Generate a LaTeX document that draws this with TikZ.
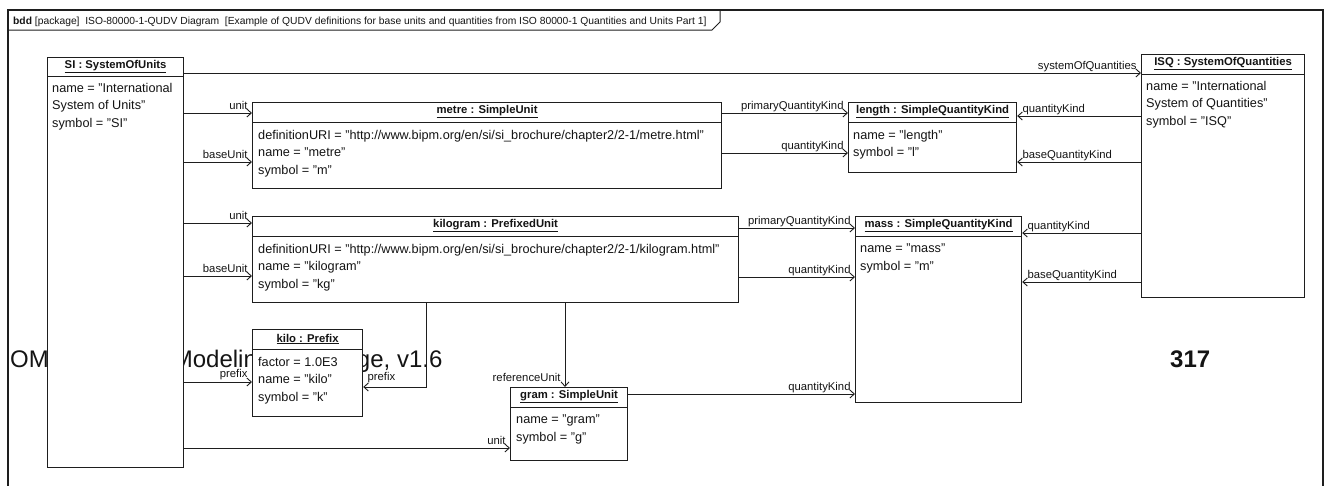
\documentclass[tikz,border=0pt]{standalone}
\usepackage{fontspec}
\setmainfont{Liberation Sans}
\usetikzlibrary{arrows.meta, positioning, calc}
\definecolor{umlline}{RGB}{30, 30, 30}
\definecolor{umltext}{RGB}{20, 20, 20}

\begin{document}
\begin{tikzpicture}[x=1pt, y=-1pt, every node/.style={text=umltext},
  frame/.style={draw=umlline, line width=1.3pt},
  obj/.style={draw=umlline, line width=1.2pt, fill=white, anchor=north west, inner sep=0pt},
  objtitle/.style={inner sep=0pt, font=\fontsize{11.3}{13}\selectfont\bfseries},
  objattr/.style={anchor=north west, inner sep=0pt, align=left, font=\fontsize{12.7}{17.5}\selectfont},
  divider/.style={draw=umlline, line width=1pt},
  assoc/.style={draw=umlline, line width=0.9pt, -{Straight Barb[length=4.5pt, width=8pt]}},
  role/.style={inner sep=0pt, font=\fontsize{11.3}{13}\selectfont}]
\useasboundingbox (0,0) rectangle (1331,485);

\draw[frame] (8,500) -- (8,10) -- (1323,10) -- (1323,500);
\node[anchor=base west, inner sep=0pt, font=\fontsize{10.3}{12}\selectfont] (hdr) at (13,24)
  {\textbf{bdd} [package]\ \ ISO-80000-1-QUDV Diagram\ \ [Example of QUDV definitions for base units and quantities from ISO 80000-1 Quantities and Units Part 1]};
\draw[frame, line width=1pt] (8,30) -- (712,30) -- (720,22) -- (720,10);

\node[anchor=base west, inner sep=0pt, font=\fontsize{24}{28}\selectfont] (footer) at (10,367) {OMG Systems Modeling Language, v1.6};
\node[anchor=base west, inner sep=0pt, font=\fontsize{24}{28}\selectfont\bfseries] (pageno) at (1170,367) {317};

\node[obj, minimum width=136pt, minimum height=410pt] (SI) at (47,57) {};
\node[objtitle] (SI-t) at ([yshift=-10pt]SI.north) {\underline{SI : SystemOfUnits}};
\draw[divider] ([yshift=-19pt]SI.north west) -- ([yshift=-19pt]SI.north east);
\node[objattr] (SI-a) at ([shift={(5pt,-26pt)}]SI.north west) {name = "International\\System of Units"\\symbol = "SI"};

\node[obj, minimum width=163pt, minimum height=243pt] (ISQ) at (1141,54) {};
\node[objtitle] (ISQ-t) at ([yshift=-10pt]ISQ.north) {\underline{ISQ : SystemOfQuantities}};
\draw[divider] ([yshift=-20pt]ISQ.north west) -- ([yshift=-20pt]ISQ.north east);
\node[objattr] (ISQ-a) at ([shift={(5pt,-27pt)}]ISQ.north west) {name = "International\\System of Quantities"\\symbol = "ISQ"};

\node[obj, minimum width=469pt, minimum height=86pt] (metre) at (252,102) {};
\node[objtitle] (metre-t) at ([yshift=-10pt]metre.north) {\underline{metre : SimpleUnit}};
\draw[divider] ([yshift=-20pt]metre.north west) -- ([yshift=-20pt]metre.north east);
\node[objattr] (metre-a) at ([shift={(6pt,-28pt)}]metre.north west) {definitionURI = "http://www.bipm.org/en/si/si\_brochure/chapter2/2-1/metre.html"\\name = "metre"\\symbol = "m"};

\node[obj, minimum width=168pt, minimum height=70pt] (length) at (848,102) {};
\node[objtitle] (length-t) at ([yshift=-10pt]length.north) {\underline{length : SimpleQuantityKind}};
\draw[divider] ([yshift=-20pt]length.north west) -- ([yshift=-20pt]length.north east);
\node[objattr] (length-a) at ([shift={(5pt,-28pt)}]length.north west) {name = "length"\\symbol = "l"};

\node[obj, minimum width=486pt, minimum height=86pt] (kilogram) at (252,216) {};
\node[objtitle] (kilogram-t) at ([yshift=-10pt]kilogram.north) {\underline{kilogram : PrefixedUnit}};
\draw[divider] ([yshift=-20pt]kilogram.north west) -- ([yshift=-20pt]kilogram.north east);
\node[objattr] (kilogram-a) at ([shift={(6pt,-28pt)}]kilogram.north west) {definitionURI = "http://www.bipm.org/en/si/si\_brochure/chapter2/2-1/kilogram.html"\\name = "kilogram"\\symbol = "kg"};

\node[obj, minimum width=166pt, minimum height=186pt] (mass) at (855,216) {};
\node[objtitle] (mass-t) at ([yshift=-10pt]mass.north) {\underline{mass : SimpleQuantityKind}};
\draw[divider] ([yshift=-20pt]mass.north west) -- ([yshift=-20pt]mass.north east);
\node[objattr] (mass-a) at ([shift={(5pt,-28pt)}]mass.north west) {name = "mass"\\symbol = "m"};

\node[obj, minimum width=110pt, minimum height=87pt] (kilo) at (252,329) {};
\node[objtitle] (kilo-t) at ([yshift=-10pt]kilo.north) {\underline{kilo : Prefix}};
\draw[divider] ([yshift=-20pt]kilo.north west) -- ([yshift=-20pt]kilo.north east);
\node[objattr] (kilo-a) at ([shift={(6pt,-28pt)}]kilo.north west) {factor = 1.0E3\\name = "kilo"\\symbol = "k"};

\node[obj, minimum width=117pt, minimum height=73pt] (gram) at (510,387) {};
\node[objtitle] (gram-t) at ([yshift=-10pt]gram.north) {\underline{gram : SimpleUnit}};
\draw[divider] ([yshift=-20pt]gram.north west) -- ([yshift=-20pt]gram.north east);
\node[objattr] (gram-a) at ([shift={(6pt,-28pt)}]gram.north west) {name = "gram"\\symbol = "g"};

\draw[assoc] (SI.east |- 0,73) -- (ISQ.west |- 0,73) node[role, pos=1, anchor=base east, xshift=-4pt, yshift=4pt] {systemOfQuantities};
\draw[assoc] (SI.east |- 0,113) -- (metre.west |- 0,113) node[role, pos=1, anchor=base east, xshift=-4pt, yshift=4pt] {unit};
\draw[assoc] (SI.east |- 0,162) -- (metre.west |- 0,162) node[role, pos=1, anchor=base east, xshift=-4pt, yshift=4pt] {baseUnit};
\draw[assoc] (metre.east |- 0,113) -- (length.west |- 0,113) node[role, pos=1, anchor=base east, xshift=-4pt, yshift=4pt] {primaryQuantityKind};
\draw[assoc] (metre.east |- 0,153) -- (length.west |- 0,153) node[role, pos=1, anchor=base east, xshift=-4pt, yshift=4pt] {quantityKind};
\draw[assoc] (ISQ.west |- 0,116) -- (length.east |- 0,116) node[role, pos=1, anchor=base west, xshift=5pt, yshift=4pt] {quantityKind};
\draw[assoc] (ISQ.west |- 0,162) -- (length.east |- 0,162) node[role, pos=1, anchor=base west, xshift=5pt, yshift=4pt] {baseQuantityKind};
\draw[assoc] (SI.east |- 0,223) -- (kilogram.west |- 0,223) node[role, pos=1, anchor=base east, xshift=-4pt, yshift=4pt] {unit};
\draw[assoc] (SI.east |- 0,276) -- (kilogram.west |- 0,276) node[role, pos=1, anchor=base east, xshift=-4pt, yshift=4pt] {baseUnit};
\draw[assoc] (kilogram.east |- 0,228) -- (mass.west |- 0,228) node[role, pos=1, anchor=base east, xshift=-4pt, yshift=4pt] {primaryQuantityKind};
\draw[assoc] (kilogram.east |- 0,277) -- (mass.west |- 0,277) node[role, pos=1, anchor=base east, xshift=-4pt, yshift=4pt] {quantityKind};
\draw[assoc] (ISQ.west |- 0,233) -- (mass.east |- 0,233) node[role, pos=1, anchor=base west, xshift=5pt, yshift=4pt] {quantityKind};
\draw[assoc] (ISQ.west |- 0,282) -- (mass.east |- 0,282) node[role, pos=1, anchor=base west, xshift=5pt, yshift=4pt] {baseQuantityKind};
\draw[assoc] (SI.east |- 0,382) -- (kilo.west |- 0,382) node[role, pos=1, anchor=base east, xshift=-4pt, yshift=5pt] {prefix};
\draw[assoc] (kilogram.south -| 426,0) |- (kilo.east |- 0,387) node[role, pos=1, anchor=base west, xshift=4pt, yshift=7pt] {prefix};
\draw[assoc] (kilogram.south -| 565,0) -- (gram.north -| 565,0) node[role, pos=1, anchor=base east, xshift=-4pt, yshift=6pt] {referenceUnit};
\draw[assoc] (gram.east |- 0,394) -- (mass.west |- 0,394) node[role, pos=1, anchor=base east, xshift=-4pt, yshift=4pt] {quantityKind};
\draw[assoc] (SI.east |- 0,448) -- (gram.west |- 0,448) node[role, pos=1, anchor=base east, xshift=-4pt, yshift=4pt] {unit};
\end{tikzpicture}
\end{document}
